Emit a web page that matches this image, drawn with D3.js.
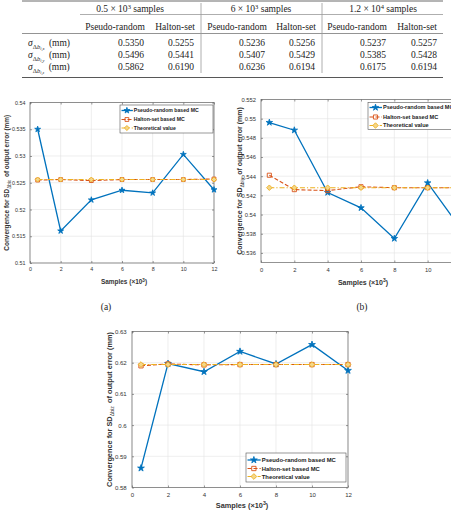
<!DOCTYPE html>
<html>
<head>
<meta charset="utf-8">
<script src="https://cdn.jsdelivr.net/npm/d3@7"></script>
<style>
body { margin: 0; background: #fff; }
svg { display: block; }
</style>
</head>
<body>
<div id="chart"></div>
<script>
// ---- data ----
const samples = [0.5, 2, 4, 6, 8, 10, 12];
const xTicks = [0, 2, 4, 6, 8, 10, 12];

const pseudoX = [0.5350, 0.5160, 0.5218, 0.5236, 0.5231, 0.5303, 0.5237];
const haltonX = [0.5255, 0.5256, 0.5254, 0.5256, 0.5256, 0.5256, 0.5257];
const theoryX = [0.5256, 0.5256, 0.5256, 0.5256, 0.5256, 0.5256, 0.5256];
const yTicksX = [0.51, 0.515, 0.52, 0.525, 0.53, 0.535, 0.54];

const pseudoY = [0.5496, 0.5488, 0.5423, 0.5407, 0.5375, 0.5433, 0.5385];
const haltonY = [0.5441, 0.5426, 0.5425, 0.5429, 0.5428, 0.5428, 0.5428];
const theoryY = [0.5428, 0.5428, 0.5428, 0.5428, 0.5428, 0.5428, 0.5428];
const yTicksY = [0.536, 0.538, 0.54, 0.542, 0.544, 0.546, 0.548, 0.55, 0.552];

const pseudoZ = [0.5862, 0.6197, 0.6171, 0.6236, 0.6196, 0.6258, 0.6175];
const haltonZ = [0.6190, 0.6196, 0.6193, 0.6194, 0.6194, 0.6194, 0.6194];
const theoryZ = [0.6194, 0.6194, 0.6194, 0.6194, 0.6194, 0.6194, 0.6194];
const yTicksZ = [0.58, 0.59, 0.6, 0.61, 0.62, 0.63];

const seriesNames = ['Pseudo-random based MC', 'Halton-set based MC', 'Theoretical value'];

// table
const tableGroups = ['0.5', '6', '1.2'];
const tableGroupExp = ['3', '3', '4'];
const tableCols = ['Pseudo-random', 'Halton-set', 'Pseudo-random', 'Halton-set', 'Pseudo-random', 'Halton-set'];
const tableRowAxes = ['x', 'y', 'z'];
const tableRowX = [0.5350, 0.5255, 0.5236, 0.5256, 0.5237, 0.5257];
const tableRowY = [0.5496, 0.5441, 0.5407, 0.5429, 0.5385, 0.5428];
const tableRowZ = [0.5862, 0.6190, 0.6236, 0.6194, 0.6175, 0.6194];

const width = 451, height = 516;
const colors = { pseudo: '#0072BD', halton: '#D95319', theory: '#EDB120' };

const svg = d3.select('#chart').append('svg')
    .attr('width', width)
    .attr('height', height);

/* ---------- table ---------- */
const serif = '"Liberation Serif", "DejaVu Serif", serif';
const tbl = svg.append('g').attr('font-family', serif).attr('fill', '#222');
const colRight = [144, 194, 265, 315, 386, 437];
const colCenter = [115, 175, 237, 296, 357, 417];
const groupCenter = [130, 261, 383];
const rowY = [46, 58, 70];

tbl.append('line').attr('x1', 22).attr('x2', 443).attr('y1', 1).attr('y2', 1)
    .attr('stroke', '#444').attr('stroke-width', 0.8);
tbl.append('line').attr('x1', 80).attr('x2', 443).attr('y1', 14.5).attr('y2', 14.5)
    .attr('stroke', '#777').attr('stroke-width', 0.6);
tbl.append('line').attr('x1', 22).attr('x2', 443).attr('y1', 33.5).attr('y2', 33.5)
    .attr('stroke', '#666').attr('stroke-width', 0.7);
tbl.append('line').attr('x1', 22).attr('x2', 443).attr('y1', 77.5).attr('y2', 77.5)
    .attr('stroke', '#444').attr('stroke-width', 0.9);
[201, 322].forEach(xv => {
    tbl.append('line').attr('x1', xv).attr('x2', xv).attr('y1', 3).attr('y2', 73)
        .attr('stroke', '#999').attr('stroke-width', 0.8);
});

tableGroups.forEach((g, i) => {
    const t = tbl.append('text')
        .attr('x', groupCenter[i]).attr('y', 12)
        .attr('text-anchor', 'middle')
        .attr('font-size', 9.5);
    t.append('tspan').text(g + ' × 10');
    t.append('tspan').attr('baseline-shift', 'super').attr('font-size', 6.5).text(tableGroupExp[i]);
    t.append('tspan').text(' samples');
});

tableCols.forEach((c, i) => {
    tbl.append('text')
        .attr('x', colCenter[i]).attr('y', 29.5)
        .attr('text-anchor', 'middle')
        .attr('font-size', 9.5)
        .text(c);
});

[tableRowX, tableRowY, tableRowZ].forEach((row, r) => {
    const lab = tbl.append('text')
        .attr('x', 28).attr('y', rowY[r])
        .attr('font-size', 9.5);
    lab.append('tspan').attr('font-style', 'italic').text('σ');
    lab.append('tspan').attr('baseline-shift', -2.5).attr('font-size', 6.5).text('Δ');
    lab.append('tspan').attr('baseline-shift', -2.5).attr('font-size', 6.5).attr('font-style', 'italic').text('b');
    lab.append('tspan').attr('baseline-shift', -4).attr('font-size', 4.5).attr('font-style', 'italic').text('i,' + tableRowAxes[r]);
    lab.append('tspan').attr('dx', 2).text(' (mm)');
    row.forEach((v, i) => {
        tbl.append('text')
            .attr('x', colRight[i]).attr('y', rowY[r])
            .attr('text-anchor', 'end')
            .attr('font-size', 9.5)
            .text(v.toFixed(4));
    });
});

/* ---------- captions ---------- */
svg.append('text').attr('x', 106).attr('y', 310).attr('text-anchor', 'middle')
    .attr('font-family', serif).attr('font-size', 9.5).attr('fill', '#222').text('(a)');
svg.append('text').attr('x', 362).attr('y', 310).attr('text-anchor', 'middle')
    .attr('font-family', serif).attr('font-size', 9.5).attr('fill', '#222').text('(b)');

/* ---------- charts ---------- */
const sans = '"Liberation Sans", Arial, Helvetica, sans-serif';

function fmt(d) { return String(+d.toFixed(4)); }

function drawChart(cfg) {
    const g = svg.append('g').attr('font-family', sans);
    const s = cfg.scale;

    const x = d3.scaleLinear().domain([0, 12]).range([cfg.left, cfg.right]);
    const y = d3.scaleLinear().domain(cfg.yDomain).range([cfg.bottom, cfg.top]);

    /* grid */
    g.append('g').selectAll('line').data(xTicks).join('line')
        .attr('x1', d => x(d)).attr('x2', d => x(d))
        .attr('y1', cfg.top).attr('y2', cfg.bottom)
        .attr('stroke', '#e3e3e3').attr('stroke-width', 0.6);
    g.append('g').selectAll('line').data(cfg.yTicks).join('line')
        .attr('x1', cfg.left).attr('x2', cfg.right)
        .attr('y1', d => y(d)).attr('y2', d => y(d))
        .attr('stroke', '#e3e3e3').attr('stroke-width', 0.6);

    /* axes (only ticks that fall inside the page get a label) */
    const xVisible = xTicks.filter(d => x(d) < width - 4);
    const xAxis = g.append('g')
        .attr('transform', `translate(0,${cfg.bottom})`)
        .call(d3.axisBottom(x).tickValues(xVisible).tickSize(-2).tickPadding(5 * s).tickFormat(d3.format('d')));
    const yAxis = g.append('g')
        .attr('transform', `translate(${cfg.left},0)`)
        .call(d3.axisLeft(y).tickValues(cfg.yTicks).tickSize(-2).tickPadding(5 * s).tickFormat(fmt));
    [xAxis, yAxis].forEach(a => {
        a.select('.domain').remove();
        a.selectAll('line').attr('stroke', '#555').attr('stroke-width', 0.6);
        a.selectAll('text').attr('font-size', 5.8 * s).attr('fill', '#333').attr('font-family', sans);
    });
    g.append('g').attr('transform', `translate(0,${cfg.top})`)
        .call(d3.axisTop(x).tickValues(xTicks).tickSize(-2).tickFormat(''))
        .call(a => { a.select('.domain').remove(); a.selectAll('line').attr('stroke', '#555').attr('stroke-width', 0.6); });
    g.append('g').attr('transform', `translate(${cfg.right},0)`)
        .call(d3.axisRight(y).tickValues(cfg.yTicks).tickSize(-2).tickFormat(''))
        .call(a => { a.select('.domain').remove(); a.selectAll('line').attr('stroke', '#555').attr('stroke-width', 0.6); });

    g.append('rect')
        .attr('x', cfg.left).attr('y', cfg.top)
        .attr('width', cfg.right - cfg.left).attr('height', cfg.bottom - cfg.top)
        .attr('fill', 'none').attr('stroke', '#666').attr('stroke-width', 0.7);

    /* lines */
    const line = d3.line().x((d, i) => x(samples[i])).y(d => y(d));
    const series = [
        { key: 'pseudo', values: cfg.pseudo, dash: null, w: 1.3 },
        { key: 'halton', values: cfg.halton, dash: '4,2', w: 1.1 },
        { key: 'theory', values: cfg.theory, dash: '5,2,1.2,2', w: 1.1 }
    ];
    const star = d3.symbol().type(d3.symbolStar).size(13 * s * s);
    const square = d3.symbol().type(d3.symbolSquare).size(17 * s * s);
    const diamond = d3.symbol().type(d3.symbolDiamond2 || d3.symbolDiamond).size(19 * s * s);

    function marker(sel, key) {
        if (key === 'pseudo') {
            sel.attr('d', star).attr('fill', colors.pseudo).attr('stroke', colors.pseudo).attr('stroke-width', 0.8);
        } else if (key === 'halton') {
            sel.attr('d', square).attr('fill', 'none').attr('stroke', colors.halton).attr('stroke-width', 0.9);
        } else {
            sel.attr('d', diamond).attr('fill', '#f4d68a').attr('stroke', colors.theory).attr('stroke-width', 0.9);
        }
    }

    series.forEach(se => {
        g.append('path')
            .datum(se.values)
            .attr('d', line)
            .attr('fill', 'none')
            .attr('stroke', colors[se.key])
            .attr('stroke-width', se.w)
            .attr('stroke-dasharray', se.dash);
        g.append('g').selectAll('path').data(se.values).join('path')
            .attr('transform', (d, i) => `translate(${x(samples[i])},${y(d)})`)
            .call(marker, se.key);
    });

    /* legend */
    const L = cfg.legend;
    const lg = g.append('g');
    lg.append('rect')
        .attr('x', L.x).attr('y', L.y).attr('width', L.w).attr('height', L.h)
        .attr('fill', '#fff').attr('stroke', '#555').attr('stroke-width', 0.6);
    series.forEach((se, i) => {
        const yy = L.y + L.rows[i];
        lg.append('line')
            .attr('x1', L.x + 1.5).attr('x2', L.x + 14 * s)
            .attr('y1', yy).attr('y2', yy)
            .attr('stroke', colors[se.key]).attr('stroke-width', se.w)
            .attr('stroke-dasharray', se.dash);
        lg.append('path')
            .attr('transform', `translate(${L.x + 7.5 * s},${yy})`)
            .call(marker, se.key);
        lg.append('text')
            .attr('x', L.x + 15 * s).attr('y', yy)
            .attr('dy', '0.35em')
            .attr('font-size', 5.6 * s)
            .attr('font-weight', 'bold')
            .attr('fill', '#222')
            .text(seriesNames[i]);
    });

    /* axis labels */
    const xl = g.append('text')
        .attr('x', (cfg.left + cfg.right) / 2 + 2).attr('y', cfg.xLabelY)
        .attr('text-anchor', 'middle')
        .attr('font-size', 7 * s)
        .attr('font-weight', 'bold')
        .attr('fill', '#333');
    xl.append('tspan').text('Samples (×10');
    xl.append('tspan').attr('baseline-shift', 'super').attr('font-size', 5 * s).text('3');
    xl.append('tspan').text(')');

    const yl = g.append('text')
        .attr('transform', `translate(${cfg.yLabelX},${(cfg.top + cfg.bottom) / 2}) rotate(-90)`)
        .attr('text-anchor', 'middle')
        .attr('font-size', 7 * s)
        .attr('font-weight', 'bold')
        .attr('fill', '#333');
    yl.append('tspan').text('Convergence for SD');
    yl.append('tspan').attr('baseline-shift', -2 * s).attr('font-size', 5 * s).attr('font-weight', 'normal').text('Δbi' + cfg.axis);
    yl.append('tspan').attr('dx', 1).text(' of output error (mm)');
}

drawChart({
    left: 30, right: 214, top: 102.5, bottom: 263,
    yDomain: [0.51, 0.54], yTicks: yTicksX,
    pseudo: pseudoX, halton: haltonX, theory: theoryX,
    axis: 'x', scale: 0.92,
    xLabelY: 284, yLabelX: 8.5,
    legend: { x: 120, y: 105, w: 93, h: 28, rows: [5.5, 14.5, 23] }
});

drawChart({
    left: 261, right: 461, top: 99.5, bottom: 262.5,
    yDomain: [0.535, 0.552], yTicks: yTicksY,
    pseudo: pseudoY, halton: haltonY, theory: theoryY,
    axis: 'y', scale: 1.0,
    xLabelY: 285, yLabelX: 241.5,
    legend: { x: 368, y: 102.5, w: 93, h: 27, rows: [5, 14.5, 23] }
});

drawChart({
    left: 132, right: 348, top: 331.5, bottom: 487.5,
    yDomain: [0.58, 0.63], yTicks: yTicksZ,
    pseudo: pseudoZ, halton: haltonZ, theory: theoryZ,
    axis: 'z', scale: 1.05,
    xLabelY: 508, yLabelX: 112,
    legend: { x: 246, y: 453, w: 100, h: 29, rows: [7, 15.5, 23.5] }
});
</script>
</body>
</html>
